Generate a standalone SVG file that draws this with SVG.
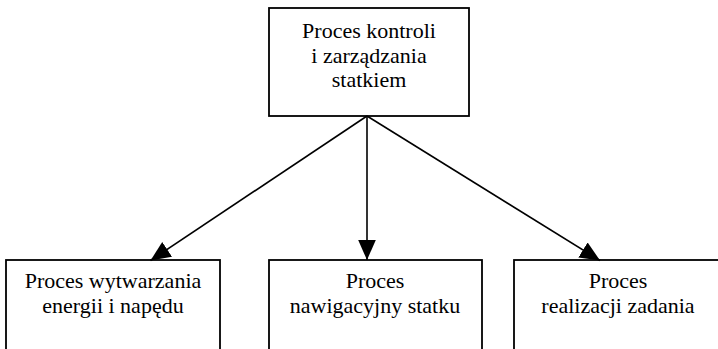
<svg xmlns="http://www.w3.org/2000/svg" width="718" height="349" viewBox="0 0 718 349" font-family="'Liberation Serif', 'Times New Roman', Times, serif">
<style>
.box{fill:#fff;stroke:#000;stroke-width:1.8}
.lbl{font-family:'Liberation Serif','Times New Roman',Times,serif;font-size:22px;fill:#000;text-anchor:middle}
.con{stroke:#000;stroke-width:1.6;fill:none}
</style>
<defs>
<marker id="ah" markerUnits="userSpaceOnUse" markerWidth="20" markerHeight="18" refX="17" refY="7.5" orient="auto" viewBox="0 0 17 15">
<path d="M0,0 L17,7.5 L0,15 Z" fill="#000"/>
</marker>
</defs>
<rect width="718" height="349" fill="#fff"/>
<g id="n-top">
<rect class="box" x="269" y="8" width="200" height="108"/>
<text class="lbl" x="369" y="38">Proces kontroli</text>
<text class="lbl" x="369" y="62.5">i zarządzania</text>
<text class="lbl" x="369" y="87">statkiem</text>
</g>
<g id="n-left">
<rect class="box" x="6" y="260" width="214" height="110"/>
<text class="lbl" x="113" y="288">Proces wytwarzania</text>
<text class="lbl" x="113" y="313">energii i napędu</text>
</g>
<g id="n-mid">
<rect class="box" x="269" y="260" width="213" height="110"/>
<text class="lbl" x="375" y="288">Proces</text>
<text class="lbl" x="375" y="313">nawigacyjny statku</text>
</g>
<g id="n-right">
<rect class="box" x="514" y="260" width="215" height="110"/>
<text class="lbl" x="618" y="288">Proces</text>
<text class="lbl" x="618" y="313">realizacji zadania</text>
</g>
<g id="connectors">
<line class="con" x1="367" y1="116" x2="150.5" y2="260.5" marker-end="url(#ah)"/>
<line class="con" x1="367" y1="116" x2="367" y2="260" marker-end="url(#ah)"/>
<line class="con" x1="367" y1="116" x2="600" y2="260.5" marker-end="url(#ah)"/>
</g>
</svg>
